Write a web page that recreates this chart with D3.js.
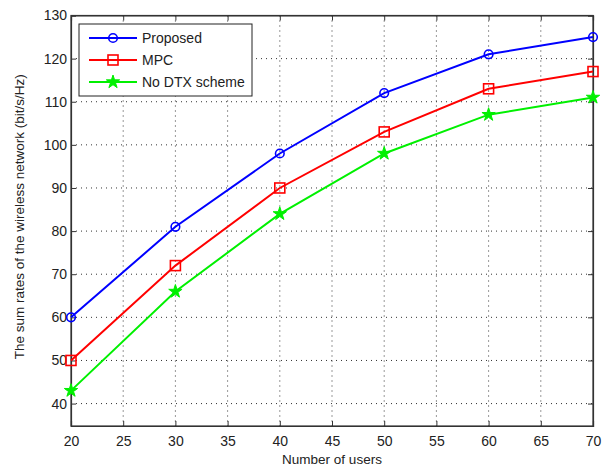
<!DOCTYPE html>
<html>
<head>
<meta charset="utf-8">
<script src="https://cdn.jsdelivr.net/npm/d3@7"></script>
<style>
  body { margin: 0; background: #fff; }
  text { font-family: "Liberation Sans", Arial, sans-serif; fill: #222; }
</style>
</head>
<body>
<svg id="chart" width="611" height="468"></svg>
<script>
// Data
var users = [20, 30, 40, 50, 60, 70];
var proposed = [60, 81, 98, 112, 121, 125];
var mpc = [50, 72, 90, 103, 113, 117];
var noDtx = [43, 66, 84, 98, 107, 111];
var xTicks = [20, 25, 30, 35, 40, 45, 50, 55, 60, 65, 70];
var yTicks = [40, 50, 60, 70, 80, 90, 100, 110, 120, 130];

var series = [
  {name: 'Proposed', values: proposed, color: '#0000ff', marker: 'circle'},
  {name: 'MPC', values: mpc, color: '#ff0000', marker: 'square'},
  {name: 'No DTX scheme', values: noDtx, color: '#00f000', marker: 'star'}
];

// Plot box
var margin = {top: 15.5, right: 18, bottom: 42, left: 71},
    width = 611 - margin.left - margin.right,
    height = 468 - margin.top - margin.bottom;

var svg = d3.select('#chart');
var g = svg.append('g')
    .attr('transform', 'translate(' + margin.left + ',' + margin.top + ')');

var xScale = d3.scaleLinear().domain([20, 70]).range([0, width]);
var yScale = d3.scaleLinear().domain([34.8, 130]).range([height, 0]);

// Grid (dotted)
g.append('g').selectAll('line')
    .data(xTicks.slice(1, -1))
    .enter().append('line')
    .attr('x1', function(d) { return xScale(d); })
    .attr('x2', function(d) { return xScale(d); })
    .attr('y1', 0).attr('y2', height)
    .attr('stroke', '#333').attr('stroke-width', 1)
    .attr('stroke-dasharray', '1,4');

g.append('g').selectAll('line')
    .data(yTicks.slice(0, -1))
    .enter().append('line')
    .attr('x1', 0).attr('x2', width)
    .attr('y1', function(d) { return yScale(d); })
    .attr('y2', function(d) { return yScale(d); })
    .attr('stroke', '#333').attr('stroke-width', 1)
    .attr('stroke-dasharray', '1,4');

// Axes with inward ticks
var xAxis = d3.axisBottom(xScale).tickValues(xTicks).tickSize(-5).tickPadding(10).tickFormat(d3.format('d'));
var yAxis = d3.axisLeft(yScale).tickValues(yTicks).tickSize(-5).tickPadding(4).tickFormat(d3.format('d'));

var gx = g.append('g')
    .attr('transform', 'translate(0,' + height + ')')
    .call(xAxis);
var gy = g.append('g').call(yAxis);

// Top and right ticks (box)
g.append('g').call(d3.axisTop(xScale).tickValues(xTicks).tickSize(-5).tickFormat(''));
g.append('g').attr('transform', 'translate(' + width + ',0)')
    .call(d3.axisRight(yScale).tickValues(yTicks).tickSize(-5).tickFormat(''));

g.selectAll('.domain').attr('stroke', '#333').attr('stroke-width', 1.2);
g.selectAll('.tick line').attr('stroke', '#333');
g.selectAll('.tick text').style('font-size', '14px').attr('fill', '#222');

g.append('rect')
    .attr('width', width).attr('height', height)
    .attr('fill', 'none').attr('stroke', '#333').attr('stroke-width', 1.2);

// Lines
var line = d3.line()
    .x(function(d, i) { return xScale(users[i]); })
    .y(function(d) { return yScale(d); });

var star = d3.symbol().type(d3.symbolStar).size(55);

function drawMarker(sel, s, x, y) {
  if (s.marker === 'circle') {
    sel.append('circle').attr('cx', x).attr('cy', y).attr('r', 4.3)
      .attr('fill', 'none').attr('stroke', s.color).attr('stroke-width', 1.6);
  } else if (s.marker === 'square') {
    sel.append('rect').attr('x', x - 5).attr('y', y - 5).attr('width', 10).attr('height', 10)
      .attr('fill', 'none').attr('stroke', s.color).attr('stroke-width', 1.6);
  } else {
    sel.append('path').attr('d', star).attr('transform', 'translate(' + x + ',' + y + ')')
      .attr('fill', s.color).attr('stroke', s.color).attr('stroke-width', 1);
  }
}

series.forEach(function(s) {
  g.append('path')
    .datum(s.values)
    .attr('d', line)
    .attr('fill', 'none')
    .attr('stroke', s.color)
    .attr('stroke-width', 2);
  var mk = g.append('g');
  s.values.forEach(function(v, i) {
    drawMarker(mk, s, xScale(users[i]), yScale(v));
  });
});

// Legend
var legend = g.append('g').attr('transform', 'translate(8,8.5)');
legend.append('rect')
    .attr('width', 173).attr('height', 72)
    .attr('fill', '#fff').attr('stroke', '#222').attr('stroke-width', 1);
series.forEach(function(s, i) {
  var y = 14 + i * 22;
  legend.append('line').attr('x1', 10).attr('x2', 58).attr('y1', y).attr('y2', y)
    .attr('stroke', s.color).attr('stroke-width', 2);
  drawMarker(legend, s, 34, y);
  legend.append('text').attr('x', 63).attr('y', y + 5)
    .style('font-size', '14px').text(s.name);
});

// Axis labels
svg.append('text')
    .attr('x', margin.left + width / 2).attr('y', 464)
    .attr('text-anchor', 'middle')
    .style('font-size', '13.5px')
    .text('Number of users');

svg.append('text')
    .attr('transform', 'translate(24,' + (margin.top + height / 2 - 4) + ') rotate(-90)')
    .attr('text-anchor', 'middle')
    .style('font-size', '13.5px')
    .text('The sum rates of the wireless network (bit/s/Hz)');
</script>
</body>
</html>
